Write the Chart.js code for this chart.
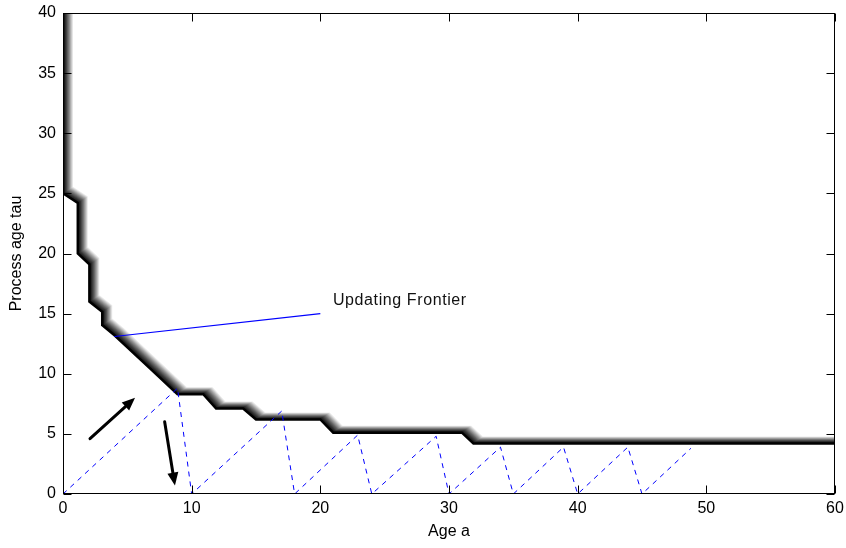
<!DOCTYPE html>
<html>
<head>
<meta charset="utf-8">
<script src="https://cdn.jsdelivr.net/npm/chart.js@4/dist/chart.umd.min.js"></script>
<style>
  html, body { margin: 0; padding: 0; background: #fff; }
  #wrap { width: 846px; height: 548px; }
</style>
</head>
<body>
<div id="wrap"><canvas id="c" width="846" height="548"></canvas></div>
<script>
// ---- data ----
const frontierX = [0, 0, 1.15, 1.15, 2.05, 2.05, 3.05, 3.05, 4.0, 6.8, 8.9, 10.9, 11.9, 14.0, 15.0, 20.0, 21.0, 31.0, 31.9, 60];
const frontierY = [40, 25, 24.2, 20.0, 19.1, 16.0, 15.15, 14.05, 13.2, 10.4, 8.3, 8.3, 7.1, 7.1, 6.2, 6.2, 5.1, 5.1, 4.2, 4.2];

const sawX = [0, 8.9, 10, 17, 18, 22.9, 24, 29, 30, 34, 35, 38.9, 40, 43.9, 45, 48.8];
const sawY = [0, 8.8, 0, 6.9, 0, 4.9, 0, 4.8, 0, 3.9, 0, 3.9, 0, 3.9, 0, 3.8];

const pointerX = [4, 20];
const pointerY = [13.1, 15];

const labelText = "Updating Frontier";
const labelPos = [20.98, 15.72];

const arrow1 = [[2.1, 4.6], [5.6, 8.0]];
const arrow2 = [[7.9, 6.0], [8.7, 0.7]];

const xTicks = [0, 10, 20, 30, 40, 50, 60];
const yTicks = [0, 5, 10, 15, 20, 25, 30, 35, 40];

const xTitle = "Age a";
const yTitle = "Process age tau";

const toPts = (xs, ys) => xs.map((x, i) => ({x: x, y: ys[i]}));

const FONT = "Arial, 'Liberation Sans', sans-serif";

const bgPlugin = {
  id: 'bg',
  beforeDraw(chart) {
    const ctx = chart.ctx;
    ctx.save();
    ctx.fillStyle = '#fff';
    ctx.fillRect(0, 0, chart.width, chart.height);
    ctx.restore();
  }
};

const shadePlugin = {
  id: 'shade',
  beforeDatasetsDraw(chart) {
    const {ctx, chartArea: a, scales: {x, y}} = chart;
    const pts = frontierX.map((v, i) => [x.getPixelForValue(v), y.getPixelForValue(frontierY[i])]);
    ctx.save();
    ctx.beginPath();
    ctx.rect(a.left, a.top, a.right - a.left, a.bottom - a.top);
    ctx.clip();
    const N = 12;
    for (let k = N; k >= 1; k--) {
      const t = k / N;
      const g = Math.round(20 + Math.pow(t, 1.3) * 215);
      ctx.strokeStyle = `rgb(${g},${g},${g})`;
      ctx.lineWidth = 2;
      ctx.lineJoin = 'miter';
      const dx = k * 0.75, dy = -k * 0.5;
      ctx.beginPath();
      pts.forEach((p, i) => {
        if (i === 0) ctx.moveTo(p[0] + dx, p[1] + dy - 20);
        else ctx.lineTo(p[0] + dx, p[1] + dy);
      });
      ctx.lineTo(a.right + 20, pts[pts.length - 1][1] + dy);
      ctx.stroke();
    }
    ctx.restore();
  }
};

function drawArrow(ctx, x, y, from, to) {
  const x0 = x.getPixelForValue(from[0]), y0 = y.getPixelForValue(from[1]);
  const x1 = x.getPixelForValue(to[0]), y1 = y.getPixelForValue(to[1]);
  const ang = Math.atan2(y1 - y0, x1 - x0);
  const hl = 13, hw = 5.5;
  const bx = x1 - hl * Math.cos(ang), by = y1 - hl * Math.sin(ang);
  ctx.strokeStyle = '#000';
  ctx.fillStyle = '#000';
  ctx.lineWidth = 3;
  ctx.lineCap = 'round';
  ctx.beginPath();
  ctx.moveTo(x0, y0);
  ctx.lineTo(bx, by);
  ctx.stroke();
  ctx.beginPath();
  ctx.moveTo(x1, y1);
  ctx.lineTo(bx + hw * Math.sin(ang), by - hw * Math.cos(ang));
  ctx.lineTo(bx - hw * Math.sin(ang), by + hw * Math.cos(ang));
  ctx.closePath();
  ctx.fill();
}

const annoPlugin = {
  id: 'anno',
  afterDatasetsDraw(chart) {
    const {ctx, chartArea: a, scales: {x, y}} = chart;
    ctx.save();
    drawArrow(ctx, x, y, arrow1[0], arrow1[1]);
    drawArrow(ctx, x, y, arrow2[0], arrow2[1]);
    ctx.fillStyle = '#111';
    ctx.font = `16px ${FONT}`;
    ctx.textAlign = 'left';
    ctx.textBaseline = 'alphabetic';
    try { ctx.letterSpacing = '0.6px'; } catch (e) {}
    ctx.fillText(labelText, x.getPixelForValue(labelPos[0]), y.getPixelForValue(labelPos[1]));
    try { ctx.letterSpacing = '0px'; } catch (e) {}
    const L = Math.round(a.left) + 0.5, R = Math.round(a.right) - 0.5;
    const T = Math.round(a.top) + 0.5, B = Math.round(a.bottom) - 0.5;
    ctx.strokeStyle = '#000';
    ctx.lineWidth = 1;
    ctx.lineCap = 'butt';
    ctx.strokeRect(L, T, R - L, B - T);
    const tl = 8;
    ctx.beginPath();
    xTicks.forEach(v => {
      const px = Math.round(x.getPixelForValue(v)) + 0.5;
      ctx.moveTo(px, B); ctx.lineTo(px, B - tl);
      ctx.moveTo(px, T); ctx.lineTo(px, T + tl);
    });
    yTicks.forEach(v => {
      const py = Math.round(y.getPixelForValue(v)) + 0.5;
      ctx.moveTo(L, py); ctx.lineTo(L + tl, py);
      ctx.moveTo(R, py); ctx.lineTo(R - tl, py);
    });
    ctx.stroke();
    ctx.restore();
  }
};

function noPad(s) { s.paddingLeft = 0; s.paddingRight = 0; s.paddingTop = 0; s.paddingBottom = 0; }

new Chart(document.getElementById('c'), {
  type: 'scatter',
  data: {
    datasets: [
      {
        label: 'saw',
        data: toPts(sawX, sawY),
        showLine: true,
        borderColor: '#0000ff',
        borderWidth: 1,
        borderDash: [5, 5],
        pointRadius: 0,
        tension: 0,
        order: 2
      },
      {
        label: 'frontier',
        data: toPts(frontierX, frontierY),
        showLine: true,
        borderColor: '#000',
        borderWidth: 2.5,
        pointRadius: 0,
        tension: 0,
        order: 3
      },
      {
        label: 'pointer',
        data: toPts(pointerX, pointerY),
        showLine: true,
        borderColor: '#0000ff',
        borderWidth: 1.2,
        pointRadius: 0,
        tension: 0,
        order: 1
      }
    ]
  },
  options: {
    responsive: false,
    animation: false,
    devicePixelRatio: 1,
    layout: { padding: { top: 13, right: 11, left: 0, bottom: 0 } },
    plugins: { legend: { display: false }, tooltip: { enabled: false } },
    scales: {
      x: {
        type: 'linear',
        min: 0, max: 60,
        afterFit(s) { s.height = 54; noPad(s); },
        afterBuildTicks(s) { s.ticks = xTicks.map(v => ({value: v})); },
        grid: { display: false, drawTicks: false },
        border: { display: false },
        ticks: { color: '#000', font: { family: FONT, size: 16 }, padding: 5, maxRotation: 0, autoSkip: false },
        title: { display: true, text: xTitle, color: '#000', font: { family: FONT, size: 16 }, padding: { top: 0, bottom: 7 } }
      },
      y: {
        type: 'linear',
        min: 0, max: 40,
        afterFit(s) { s.width = 63; noPad(s); },
        afterBuildTicks(s) { s.ticks = yTicks.map(v => ({value: v})); },
        grid: { display: false, drawTicks: false },
        border: { display: false },
        ticks: { color: '#000', font: { family: FONT, size: 16 }, padding: 7, autoSkip: false },
        title: { display: true, text: yTitle, color: '#000', font: { family: FONT, size: 16 }, padding: { top: 7, bottom: 0 } }
      }
    }
  },
  plugins: [bgPlugin, shadePlugin, annoPlugin]
});
</script>
</body>
</html>
